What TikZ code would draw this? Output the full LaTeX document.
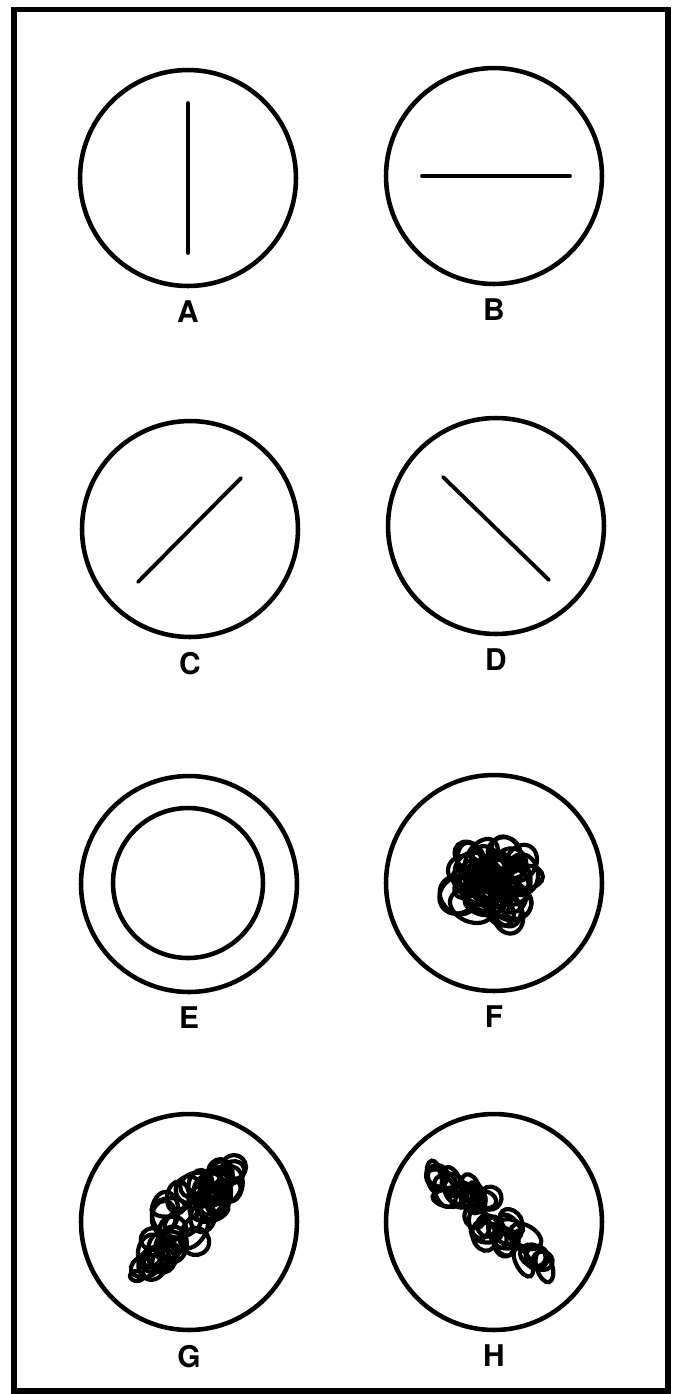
\documentclass[tikz,border=0pt]{standalone}
\usepackage{fontspec}
\newfontfamily\tagfont{TeX Gyre Heros}
\usetikzlibrary{positioning, calc}

\begin{document}
\begin{tikzpicture}[
    x=0.02cm, y=-0.02cm,
    node distance=0.25cm,
    disc/.style={draw, circle, line width=2.6pt, minimum size=4.32cm, inner sep=0pt},
    hole/.style={draw, circle, line width=2.6pt, minimum size=3.0cm, inner sep=0pt},
    tag/.style={font={\tagfont\bfseries\fontsize{17}{17}\selectfont}, inner sep=0pt},
    bar/.style={line width=2.2pt, line cap=round},
    scrawl/.style={line width=2.4pt},
    frame/.style={line width=3.2pt}
  ]
  \useasboundingbox (0,0) rectangle (678,1394);
  \draw[frame] (14,9.5) rectangle (668,1391);

  % the eight discs
  \node[disc] (dA) at (188,178) {};
  \node[disc] (dB) at (494,176) {};
  \node[disc] (dC) at (190,529) {};
  \node[disc] (dD) at (496,526) {};
  \node[disc] (dE) at (189,884) {};
  \node[disc] (dF) at (494,883) {};
  \node[disc] (dG) at (189,1222) {};
  \node[disc] (dH) at (494,1222) {};

  \node[tag, below=of dA] (tA) {A};
  \node[tag, below=of dB] (tB) {B};
  \node[tag, below=of dC] (tC) {C};
  \node[tag, below=of dD] (tD) {D};
  \node[tag, below=of dE] (tE) {E};
  \node[tag, below=of dF] (tF) {F};
  \node[tag, below=of dG] (tG) {G};
  \node[tag, below=of dH] (tH) {H};

  % straight marks
  \draw[bar] ($(dA)+(0,-75)$) -- ($(dA)+(0,75)$);
  \draw[bar] ($(dB)+(-72,0)$) -- ($(dB)+(76,0)$);
  \draw[bar] ($(dC)+(-52,53)$) -- ($(dC)+(51,-51)$);
  \draw[bar] ($(dD)+(-53,-49)$) -- ($(dD)+(53,54)$);

  % ring
  \node[hole] (rE) at (188,883) {};

  % scribbles
  \pgfmathsetseed{2024}
  \foreach \k in {1,...,40}{
    \pgfmathsetmacro\ang{360*rnd}
    \pgfmathsetmacro\rad{38*sqrt(rnd)}
    \pgfmathsetmacro\cx{491+\rad*cos(\ang)}
    \pgfmathsetmacro\cy{880+1.05*\rad*sin(\ang)}
    \pgfmathsetmacro\rx{10+8*rnd}
    \pgfmathsetmacro\ry{14+10*rnd}
    \pgfmathsetmacro\rot{180*rnd}
    \draw[scrawl, rotate around={\rot:(\cx,\cy)}] (\cx,\cy) ellipse [x radius=\rx, y radius=\ry];
  }
  \foreach \k in {1,...,38}{
    \pgfmathsetmacro\s{rnd}
    \pgfmathsetmacro\w{(22*sin(180*\s)+4)*rand}
    \pgfmathsetmacro\cx{144+88*\s+0.728*\w}
    \pgfmathsetmacro\cy{1265-94*\s+0.685*\w}
    \pgfmathsetmacro\rx{12+8*rnd}
    \pgfmathsetmacro\ry{8+7*rnd}
    \pgfmathsetmacro\rot{47+50*rand}
    \draw[scrawl, rotate around={\rot:(\cx,\cy)}] (\cx,\cy) ellipse [x radius=\rx, y radius=\ry];
  }
  \draw[scrawl] (234,1167) circle [radius=12];
  \draw[scrawl] (137,1276) ellipse [x radius=7, y radius=5];
  \foreach \k in {1,...,34}{
    \pgfmathsetmacro\s{rnd}
    \pgfmathsetmacro\w{(15*sin(180*\s)+4)*rand}
    \pgfmathsetmacro\cx{436+110*\s-0.656*\w}
    \pgfmathsetmacro\cy{1173+98*\s+0.755*\w}
    \pgfmathsetmacro\rx{10+7*rnd}
    \pgfmathsetmacro\ry{7+5*rnd}
    \pgfmathsetmacro\rot{-41+40*rand}
    \draw[scrawl, rotate around={\rot:(\cx,\cy)}] (\cx,\cy) ellipse [x radius=\rx, y radius=\ry];
  }
  \draw[scrawl] (437,1176) circle [radius=11];
\end{tikzpicture}
\end{document}
